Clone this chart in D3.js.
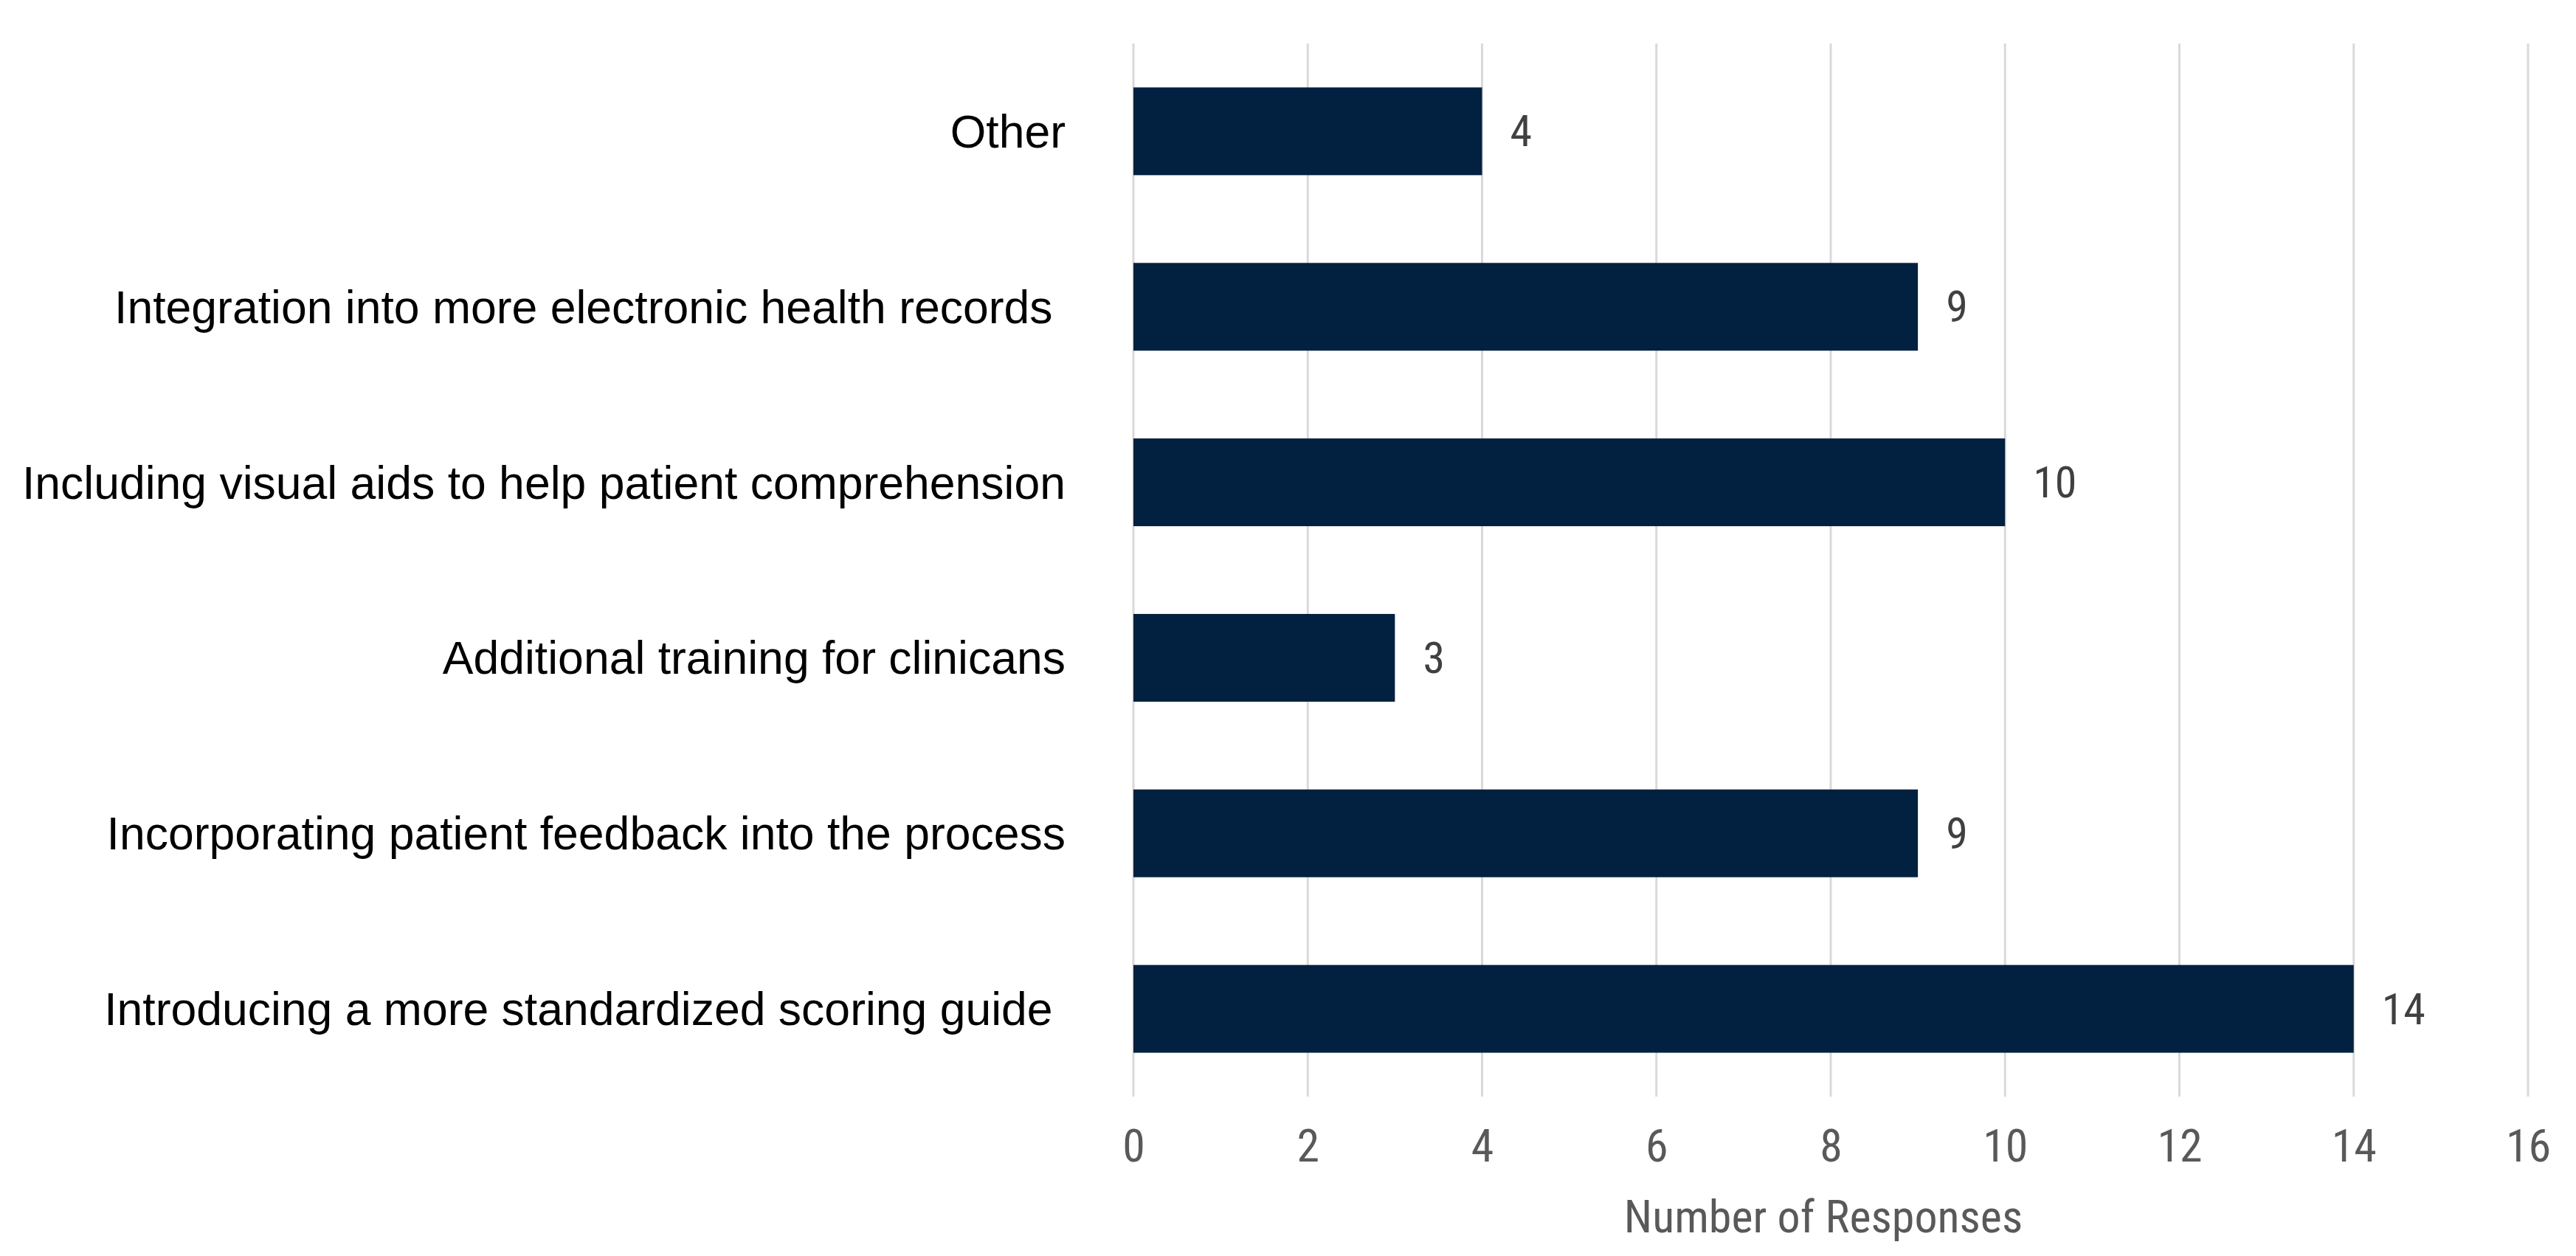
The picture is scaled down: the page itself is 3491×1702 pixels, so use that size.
<!DOCTYPE html>
<html>
<head>
<meta charset="utf-8">
<script src="https://cdn.jsdelivr.net/npm/d3@7"></script>
<style>
  html, body { margin: 0; padding: 0; background: #ffffff; }
  svg { display: block; }
  text { white-space: pre; }
</style>
</head>
<body>
<svg id="chart" width="3491" height="1702"></svg>
<script>
const categories = [
  "Other",
  "Integration into more electronic health records ",
  "Including visual aids to help patient comprehension",
  "Additional training for clinicans",
  "Incorporating patient feedback into the process",
  "Introducing a more standardized scoring guide "
];
const responses = [4, 9, 10, 3, 9, 14];
const tickValues = [0, 2, 4, 6, 8, 10, 12, 14, 16];
const axisTitle = "Number of Responses";

const svg = d3.select("#chart");
const plot = { left: 1536, right: 3426, top: 59, bottom: 1486 };

const x = d3.scaleLinear().domain([0, 16]).range([plot.left, plot.right]);
const y = d3.scaleBand().domain(categories).range([plot.top, plot.bottom])
  .paddingInner(0.5).paddingOuter(0.25);

const narrow = "'Liberation Sans Narrow', 'Arial Narrow', 'Roboto Condensed', sans-serif";

// gridlines
svg.append("g").selectAll("line").data(tickValues).join("line")
  .attr("x1", d => x(d)).attr("x2", d => x(d))
  .attr("y1", plot.top).attr("y2", plot.bottom)
  .attr("stroke", "#d9d9d9").attr("stroke-width", 3);

// bars
svg.append("g").selectAll("rect").data(categories).join("rect")
  .attr("x", x(0))
  .attr("y", d => y(d))
  .attr("width", (d, i) => x(responses[i]) - x(0))
  .attr("height", y.bandwidth())
  .attr("fill", "#02203f");

// value labels
svg.append("g").selectAll("text").data(categories).join("text")
  .attr("x", (d, i) => x(responses[i]) + 38)
  .attr("y", d => y(d) + y.bandwidth() / 2)
  .attr("dominant-baseline", "central")
  .attr("font-family", narrow)
  .attr("font-size", 60)
  .attr("fill", "#404040")
  .text((d, i) => responses[i]);

// category labels
svg.append("g").selectAll("text").data(categories).join("text")
  .attr("x", 1444)
  .attr("y", d => y(d) + y.bandwidth() / 2)
  .attr("text-anchor", "end")
  .attr("dominant-baseline", "central")
  .attr("font-family", "'Liberation Sans', Arial, sans-serif")
  .attr("font-size", 62.5)
  .attr("fill", "#000000")
  .text(d => d);

// x axis via d3.axisBottom (no domain/tick lines)
const xAxis = d3.axisBottom(x).tickValues(tickValues).tickSize(0).tickPadding(0);
const gx = svg.append("g").attr("transform", `translate(0, 1552)`).call(xAxis);
gx.select(".domain").remove();
gx.selectAll("text")
  .attr("y", 0).attr("dy", null)
  .attr("dominant-baseline", "central")
  .attr("font-family", narrow)
  .attr("font-size", 62)
  .attr("fill", "#595959");

// axis title
svg.append("text")
  .attr("x", (plot.left + plot.right) / 2 - 10)
  .attr("y", 1648)
  .attr("text-anchor", "middle")
  .attr("dominant-baseline", "central")
  .attr("font-family", narrow)
  .attr("font-size", 62)
  .attr("fill", "#595959")
  .text(axisTitle);
</script>
</body>
</html>
